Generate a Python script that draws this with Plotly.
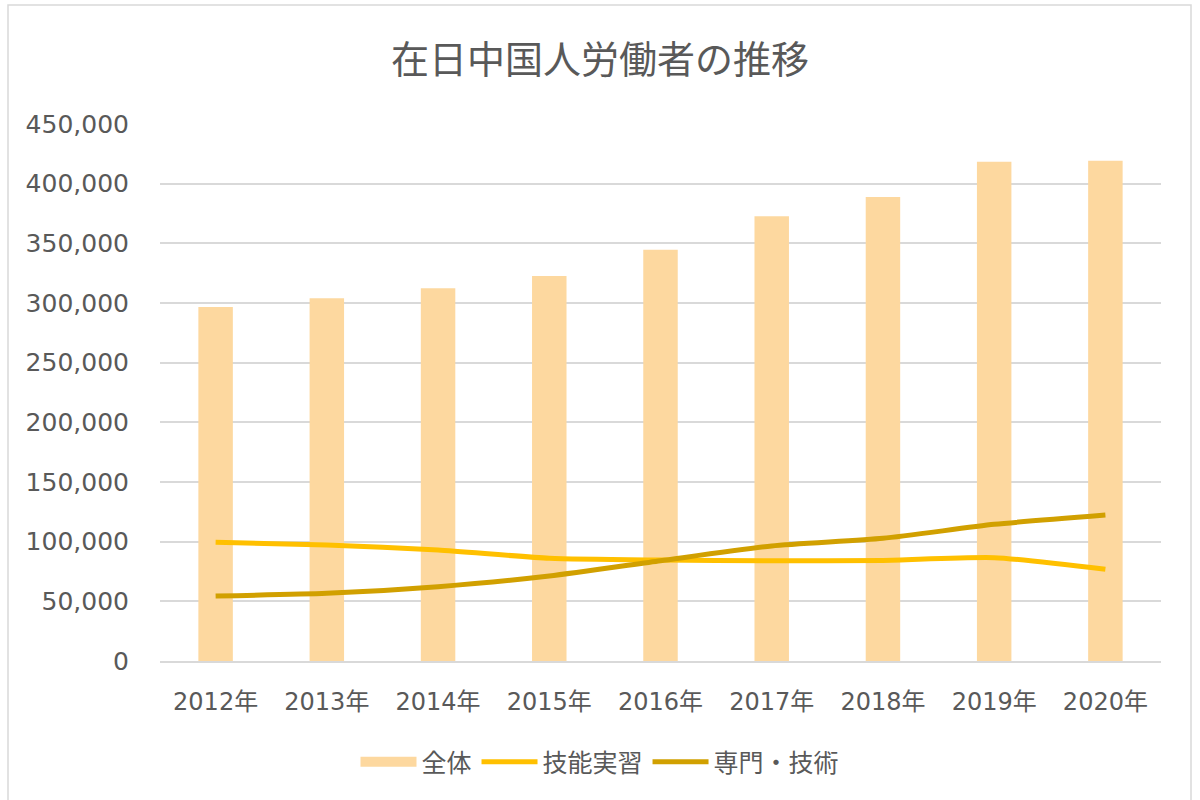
import plotly.graph_objects as go

years = ["2012年", "2013年", "2014年", "2015年", "2016年", "2017年", "2018年", "2019年", "2020年"]
total = [296600, 303900, 312300, 322600, 344700, 372600, 388800, 418400, 419300]
technical_intern = [99500, 97200, 93000, 86100, 84600, 84000, 84300, 86600, 76800]
professional = [54500, 56700, 62300, 71200, 84000, 96400, 102800, 114500, 122300]
y_ticks = [0, 50000, 100000, 150000, 200000, 250000, 300000, 350000, 400000, 450000]
y_tick_labels = [f"{v:,}" for v in y_ticks]

TEXT = "#595959"
GRID = "#D9D9D9"
BARC = "#FDD89F"
NUMFONT = "DejaVu Sans, Noto Sans CJK JP, sans-serif"
JPFONT = "Noto Sans CJK JP, sans-serif"

fig = go.Figure()
fig.add_trace(go.Bar(x=years, y=total, name="全体", marker=dict(color=BARC, line=dict(width=0)),
                     showlegend=False, legendgroup="total"))
# legend entry for the bars (wide swatch like the reference)
fig.add_trace(go.Scatter(x=[None], y=[None], name="全体", mode="lines", legendgroup="total",
                         line=dict(color=BARC, width=14)))
fig.add_trace(go.Scatter(x=years, y=technical_intern, name="技能実習", mode="lines",
                         line=dict(color="#FFC000", width=5, shape="spline", smoothing=0.6)))
fig.add_trace(go.Scatter(x=years, y=professional, name="専門・技術", mode="lines",
                         line=dict(color="#D1A000", width=5, shape="spline", smoothing=0.6)))

# plot area: x 160..1161, y 124..661
L, R, T, B = 160, 1161, 124, 661
W, H = R - L, B - T

fig.update_layout(
    width=1200, height=800,
    margin=dict(l=L, r=1200 - R, t=T, b=800 - B),
    paper_bgcolor="white", plot_bgcolor="white",
    bargap=0.69,
    title=dict(text="在日中国人労働者の推移", x=0.5, xanchor="center", xref="container",
               y=1 - 60 / 800, yanchor="middle", yref="container",
               font=dict(family=JPFONT, size=38, color=TEXT)),
    xaxis=dict(showgrid=False, showline=True, linecolor=GRID, linewidth=1.5, ticks="",
               tickfont=dict(family=NUMFONT, size=24, color=TEXT), ticklabelstandoff=18),
    yaxis=dict(range=[0, 450000], tickvals=y_ticks, ticktext=y_tick_labels, showgrid=True,
               gridcolor=GRID, gridwidth=1.5, zeroline=False, showline=False, ticks="",
               tickfont=dict(family=NUMFONT, size=25, color=TEXT), ticklabelstandoff=30),
    legend=dict(orientation="h", xref="container", yref="container", x=0.5, xanchor="center",
                y=1 - 762 / 800, yanchor="middle", itemwidth=56,
                font=dict(family=JPFONT, size=25, color=TEXT), traceorder="normal"),
    showlegend=True,
    shapes=[dict(type="rect", xref="paper", yref="paper",
                 x0=(8 - L) / W, x1=(1191 - L) / W, y0=(B - 810) / H, y1=(B - 5) / H,
                 line=dict(color="#D9D9D9", width=1.5), fillcolor="rgba(0,0,0,0)", layer="below")],
)

fig.write_html("out.html")
